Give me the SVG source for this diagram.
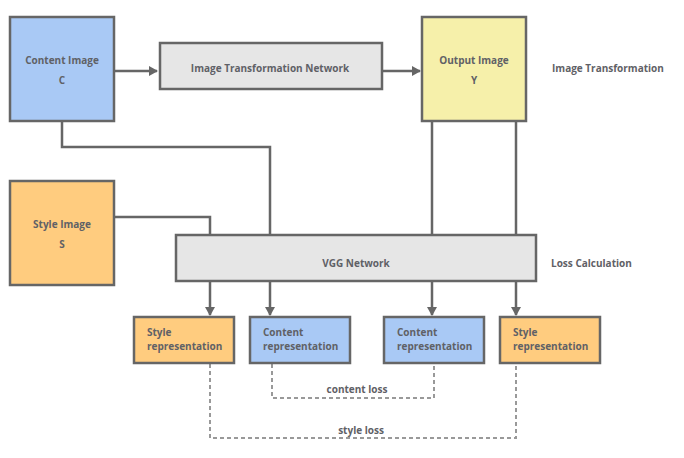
<svg xmlns="http://www.w3.org/2000/svg" width="684" height="458" viewBox="0 0 684 458">
<defs>
<marker id="arr" markerWidth="10" markerHeight="10" refX="8" refY="5" orient="auto" markerUnits="userSpaceOnUse">
<path d="M0,0 L9,5 L0,10 Z" fill="#666"/>
</marker>
<style>
.box{stroke:#666;stroke-width:2.5}
.blue{fill:#a9c9f5}
.yellow{fill:#f6f0aa}
.orange{fill:#ffcc7f}
.gray{fill:#e6e6e6}
text{font-family:"Open Sans","DejaVu Sans",sans-serif;font-size:10px;font-weight:bold;fill:#5f6166}
.c{text-anchor:middle}
.ln{fill:none;stroke:#666;stroke-width:2.5}
.dash{fill:none;stroke:#999;stroke-width:2;stroke-dasharray:4,3}
</style>
</defs>
<rect width="684" height="458" fill="#fff"/>
<g id="connectors">
<path class="ln" d="M114,71 H157" marker-end="url(#arr)"/>
<path class="ln" d="M382,71 H420" marker-end="url(#arr)"/>
<path class="ln" d="M62,121 V147 H270 V235"/>
<path class="ln" d="M114,217 H210 V235"/>
<path class="ln" d="M432,121 V235"/>
<path class="ln" d="M516,121 V235"/>
<path class="ln" d="M210,281 V315" marker-end="url(#arr)"/>
<path class="ln" d="M270,281 V315" marker-end="url(#arr)"/>
<path class="ln" d="M432,281 V315" marker-end="url(#arr)"/>
<path class="ln" d="M516,281 V315" marker-end="url(#arr)"/>
<path class="dash" d="M272,364 V398 H434 V364"/>
<path class="dash" d="M210,364 V438 H516 V364"/>
<text class="c" x="357" y="393">content loss</text>
<text class="c" x="361" y="434">style loss</text>
</g>
<g id="content-image">
<rect class="box blue" x="10" y="17" width="104" height="104"/>
<text class="c" x="62" y="64">Content Image</text>
<text class="c" x="62" y="84">C</text>
</g>
<g id="itn">
<rect class="box gray" x="160" y="43" width="222" height="46"/>
<text class="c" x="270" y="72">Image Transformation Network</text>
</g>
<g id="output-image">
<rect class="box yellow" x="422" y="17" width="104" height="104"/>
<text class="c" x="474" y="64">Output Image</text>
<text class="c" x="474" y="84">Y</text>
</g>
<g id="label-transformation">
<text x="552" y="72">Image Transformation</text>
</g>
<g id="style-image">
<rect class="box orange" x="10" y="181" width="104" height="104"/>
<text class="c" x="62" y="228">Style Image</text>
<text class="c" x="62" y="248">S</text>
</g>
<g id="vgg">
<rect class="box gray" x="176" y="235" width="360" height="46"/>
<text class="c" x="356" y="267">VGG Network</text>
</g>
<g id="label-loss">
<text x="551" y="267">Loss Calculation</text>
</g>
<g id="style-rep-1">
<rect class="box orange" x="134" y="317" width="100" height="46"/>
<text x="147" y="336">Style</text>
<text x="147" y="350">representation</text>
</g>
<g id="content-rep-1">
<rect class="box blue" x="250" y="317" width="100" height="46"/>
<text x="263" y="336">Content</text>
<text x="263" y="350">representation</text>
</g>
<g id="content-rep-2">
<rect class="box blue" x="384" y="317" width="100" height="46"/>
<text x="397" y="336">Content</text>
<text x="397" y="350">representation</text>
</g>
<g id="style-rep-2">
<rect class="box orange" x="500" y="317" width="100" height="46"/>
<text x="513" y="336">Style</text>
<text x="513" y="350">representation</text>
</g>
</svg>
